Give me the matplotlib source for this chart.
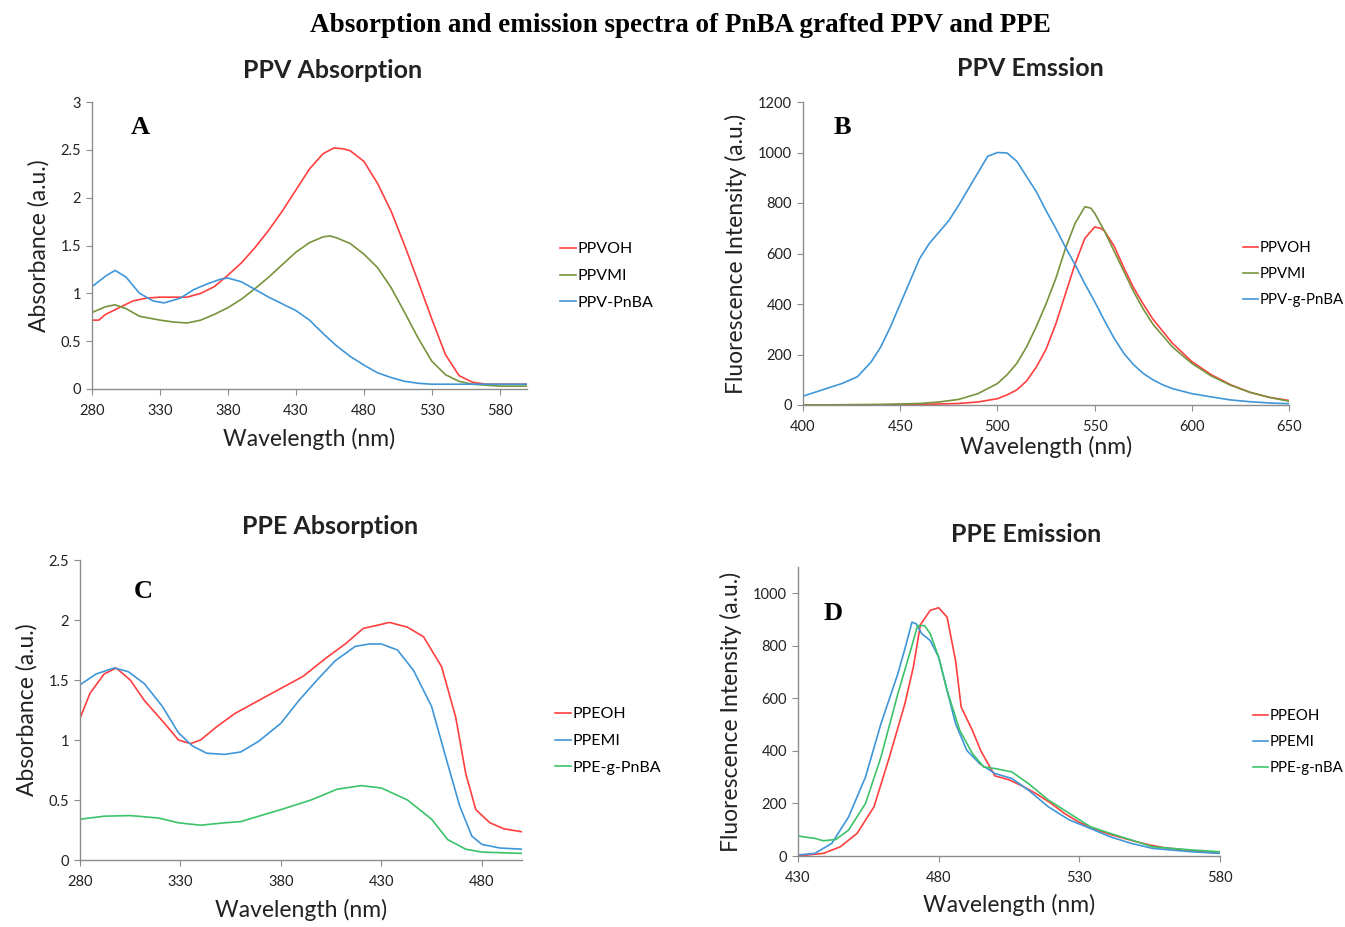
import matplotlib
matplotlib.use("Agg")
import matplotlib.pyplot as plt

plt.rcParams['font.family'] = ['Lato', 'DejaVu Sans']

# ---- Panel A: PPV absorption ----
a_wl_ppvoh = [280, 285, 290, 300, 310, 320, 330, 340, 350, 360, 370, 380, 390, 400, 410, 420, 430,
              440, 450, 458, 465, 470, 480, 490, 500, 510, 520, 530, 540, 550, 560, 570, 580, 600]
a_ppvoh = [0.72, 0.72, 0.78, 0.85, 0.92, 0.95, 0.96, 0.96, 0.96, 1.0, 1.07, 1.19, 1.32, 1.48, 1.66, 1.86, 2.08,
           2.3, 2.46, 2.52, 2.51, 2.49, 2.38, 2.15, 1.86, 1.5, 1.12, 0.73, 0.36, 0.14, 0.07, 0.05, 0.05, 0.05]
a_wl_ppvmi = [280, 290, 297, 305, 315, 330, 340, 350, 360, 370, 380, 390, 400, 410, 420, 430, 440, 450, 455,
              460, 470, 480, 490, 500, 510, 520, 530, 540, 550, 560, 580, 600]
a_ppvmi = [0.8, 0.86, 0.88, 0.84, 0.76, 0.72, 0.7, 0.69, 0.72, 0.78, 0.85, 0.94, 1.05, 1.17, 1.3, 1.43, 1.53,
           1.59, 1.6, 1.58, 1.52, 1.41, 1.27, 1.06, 0.8, 0.53, 0.29, 0.15, 0.08, 0.05, 0.03, 0.03]
a_wl_pnba = [280, 290, 297, 305, 315, 325, 333, 345, 355, 365, 375, 380, 390, 400, 410, 420, 430, 440, 450,
             460, 470, 480, 490, 500, 510, 520, 530, 560, 600]
a_pnba = [1.07, 1.18, 1.24, 1.17, 1.0, 0.92, 0.9, 0.95, 1.04, 1.1, 1.15, 1.16, 1.12, 1.04, 0.96, 0.89, 0.82,
          0.72, 0.58, 0.45, 0.34, 0.25, 0.17, 0.12, 0.08, 0.06, 0.05, 0.05, 0.05]

# ---- Panel B: PPV emission ----
b_wl_pnba = [400, 410, 420, 428, 435, 440, 445, 450, 455, 460, 465, 470, 475, 480, 485, 490, 495, 500, 505,
             510, 515, 520, 525, 530, 535, 540, 545, 550, 555, 560, 565, 570, 575, 580, 585, 590, 600, 610,
             620, 630, 640, 650]
b_pnba = [35, 60, 85, 112, 170, 230, 310, 400, 490, 580, 640, 685, 730, 790, 855, 920, 985, 1000, 998,
          965, 905, 845, 770, 700, 625, 555, 480, 410, 335, 265, 205, 160, 125, 100, 80, 65, 45, 32,
          20, 13, 8, 5]
b_wl_ppvmi = [400, 440, 460, 470, 480, 490, 500, 505, 510, 515, 520, 525, 530, 535, 540, 545, 548, 550, 555,
              560, 565, 570, 575, 580, 590, 600, 610, 620, 630, 640, 650]
b_ppvmi = [0, 2, 6, 12, 22, 45, 85, 120, 165, 230, 310, 400, 500, 620, 720, 785, 780, 760, 690,
           610, 530, 450, 380, 320, 230, 165, 115, 78, 50, 30, 15]
b_wl_ppvoh = [400, 460, 480, 490, 500, 505, 510, 515, 520, 525, 530, 535, 540, 545, 550, 553, 555, 560,
              565, 570, 575, 580, 590, 600, 610, 620, 630, 640, 650]
b_ppvoh = [0, 2, 6, 12, 25, 40, 60, 95, 150, 220, 320, 440, 560, 660, 705, 700, 690, 630,
           545, 465, 400, 340, 245, 172, 120, 80, 50, 30, 18]

# ---- Panel C: PPE absorption ----
c_wl_ppeoh = [280, 285, 292, 298, 305, 312, 322, 329, 335, 340, 348, 357, 369, 380, 391, 403, 412, 421,
              429, 434, 443, 451, 460, 467, 472, 477, 484, 491, 500]
c_ppeoh = [1.18, 1.39, 1.55, 1.6, 1.5, 1.33, 1.14, 1.0, 0.97, 1.0, 1.11, 1.22, 1.33, 1.43, 1.53, 1.69, 1.8,
           1.93, 1.96, 1.98, 1.94, 1.86, 1.61, 1.19, 0.72, 0.42, 0.31, 0.26, 0.235]
c_wl_ppemi = [280, 288, 297, 304, 312, 321, 329, 336, 343, 352, 360, 369, 380, 389, 398, 407, 417, 424,
              430, 438, 446, 455, 462, 469, 475, 480, 489, 500]
c_ppemi = [1.46, 1.55, 1.6, 1.57, 1.47, 1.28, 1.06, 0.95, 0.89, 0.88, 0.9, 0.99, 1.14, 1.33, 1.5, 1.66,
           1.78, 1.8, 1.8, 1.75, 1.58, 1.28, 0.86, 0.45, 0.2, 0.13, 0.1, 0.09]
c_wl_pnba = [280, 292, 305, 319, 329, 340, 352, 360, 380, 395, 408, 420, 430, 443, 455, 463, 472, 480, 500]
c_pnba = [0.34, 0.365, 0.37, 0.35, 0.31, 0.29, 0.31, 0.32, 0.42, 0.5, 0.59, 0.62, 0.6, 0.5, 0.34, 0.17,
          0.09, 0.066, 0.055]

# ---- Panel D: PPE emission ----
d_wl_ppeoh = [430, 439, 445, 451, 457, 462.5, 468, 471, 473.5, 477, 480, 483, 486, 488, 492, 495, 500,
              505, 510, 515, 520, 525, 530, 535, 540, 545, 550, 555, 560, 570, 580]
d_ppeoh = [0, 10, 35, 86, 187, 377, 580, 719, 880, 935, 945, 909, 744, 567, 478, 400, 305,
           290, 265, 235, 200, 160, 128, 105, 85, 70, 55, 42, 32, 20, 10]
d_wl_ppemi = [430, 436, 442, 448, 454, 459.5, 465.5, 468.5, 470.5, 472, 474, 477, 480, 483, 486, 490,
              494.5, 500, 506, 512, 519, 526.5, 532.5, 541, 548.5, 556, 570, 580]
d_ppemi = [4, 10, 48, 149, 301, 504, 694, 808, 890, 884, 846, 820, 757, 630, 504, 402,
           352, 314, 295, 250, 187, 137, 111, 73, 48, 29, 16, 10]
d_wl_pnba = [430, 436, 439, 443.5, 448, 454, 459.5, 465.5, 470, 472.5, 475, 477, 480, 483, 487.5, 492,
             496, 500, 506, 512, 519, 526.5, 534, 541, 548.5, 556, 570, 580]
d_pnba = [76, 67, 58, 63, 99, 200, 377, 618, 782, 877, 877, 846, 757, 630, 478, 390,
          339, 333, 320, 275, 213, 162, 111, 86, 61, 35, 23, 16]

RED = '#ff3f3f'
OLIVE = '#77933c'
BLUE = '#3f96d8'
GREEN = '#3cc36a'

W, H = 1345, 927
fig = plt.figure(figsize=(W / 100, H / 100), dpi=100)


def add_axes(l, r, b, t):
    ax = fig.add_axes([l / W, 1 - b / H, (r - l) / W, (b - t) / H])
    for s in ['top', 'right']:
        ax.spines[s].set_visible(False)
    for s in ['left', 'bottom']:
        ax.spines[s].set_color('#8c8c8c')
        ax.spines[s].set_linewidth(1.0)
    ax.tick_params(axis='both', direction='out', length=4, color='#8c8c8c',
                   labelsize=10.5, labelcolor='#222222')
    ax.tick_params(axis='x', pad=7)
    ax.tick_params(axis='y', pad=4)
    return ax


def style(ax, xlim, xticks, ylim, yticks, ylabel, letter, lx, ly, xpad):
    ax.set_xlim(*xlim)
    ax.set_ylim(*ylim)
    ax.set_xticks(xticks)
    ax.set_yticks(yticks)
    ax.set_yticklabels(['%g' % v for v in yticks])
    ax.set_xlabel('Wavelength (nm)', fontsize=16.5, color='#222222', labelpad=xpad)
    ax.set_ylabel(ylabel, fontsize=16.5, color='#222222', labelpad=8)
    fig.text(lx / W, 1 - ly / H, letter, family='Liberation Serif', fontweight='bold',
             fontsize=19, ha='center', va='center')


def legend(ax, x, y, size=11.5):
    ax.legend(loc='center left', bbox_to_anchor=(x / W, 1 - y / H), bbox_transform=fig.transFigure,
              frameon=False, fontsize=size, handlelength=1.0, handletextpad=0.12, labelspacing=0.8,
              borderpad=0)


lw = 1.2

# A
ax = add_axes(92, 527, 389, 102)
ax.plot(a_wl_ppvoh, a_ppvoh, color=RED, lw=lw, label='PPVOH')
ax.plot(a_wl_ppvmi, a_ppvmi, color=OLIVE, lw=lw, label='PPVMI')
ax.plot(a_wl_pnba, a_pnba, color=BLUE, lw=lw, label='PPV-PnBA')
style(ax, (280, 600), [280, 330, 380, 430, 480, 530, 580], (0, 3), [0, 0.5, 1, 1.5, 2, 2.5, 3],
      'Absorbance (a.u.)', 'A', 140, 128, 7)
legend(ax, 552, 276)

# B
ax = add_axes(803, 1289, 405, 102)
ax.plot(b_wl_ppvoh, b_ppvoh, color=RED, lw=lw, label='PPVOH')
ax.plot(b_wl_ppvmi, b_ppvmi, color=OLIVE, lw=lw, label='PPVMI')
ax.plot(b_wl_pnba, b_pnba, color=BLUE, lw=lw, label='PPV-g-PnBA')
style(ax, (400, 650), [400, 450, 500, 550, 600, 650], (0, 1200), list(range(0, 1201, 200)),
      'Fluorescence Intensity (a.u.)', 'B', 842, 127, 1)
legend(ax, 1235, 274, 10.8)

# C
ax = add_axes(80, 522, 860, 560)
ax.plot(c_wl_ppeoh, c_ppeoh, color=RED, lw=lw, label='PPEOH')
ax.plot(c_wl_ppemi, c_ppemi, color=BLUE, lw=lw, label='PPEMI')
ax.plot(c_wl_pnba, c_pnba, color=GREEN, lw=lw, label='PPE-g-PnBA')
style(ax, (280, 500), [280, 330, 380, 430, 480], (0, 2.5), [0, 0.5, 1, 1.5, 2, 2.5],
      'Absorbance (a.u.)', 'C', 143, 592, 7)
legend(ax, 547, 741)

# D
ax = add_axes(798, 1220, 856, 567)
ax.plot(d_wl_ppeoh, d_ppeoh, color=RED, lw=lw, label='PPEOH')
ax.plot(d_wl_ppemi, d_ppemi, color=BLUE, lw=lw, label='PPEMI')
ax.plot(d_wl_pnba, d_pnba, color=GREEN, lw=lw, label='PPE-g-nBA')
style(ax, (430, 580), [430, 480, 530, 580], (0, 1100), list(range(0, 1001, 200)),
      'Fluorescence Intensity (a.u.)', 'D', 833, 613, 6)
legend(ax, 1245, 742, 10.8)

# titles
fig.text(680 / W, 1 - 26 / H, 'Absorption and emission spectra of PnBA grafted PPV and PPE',
         family='Liberation Serif', fontweight='bold', fontsize=19.5, ha='center', va='center')
for x, y, t in [(333, 70, 'PPV Absorption'), (1030, 68, 'PPV Emssion'),
                (330, 526, 'PPE Absorption'), (1026, 534, 'PPE Emission')]:
    fig.text(x / W, 1 - y / H, t, fontsize=18, fontweight='bold', ha='center', va='center',
             color='#222222')

fig.savefig('out.png', dpi=100, facecolor='white')
